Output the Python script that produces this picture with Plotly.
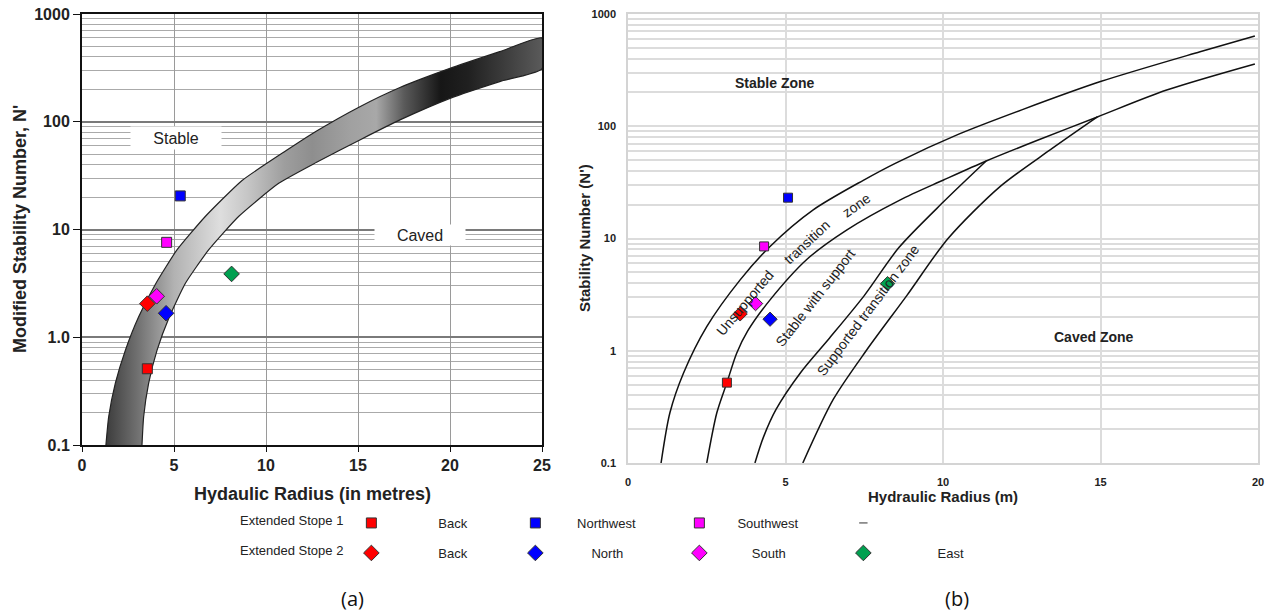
import math
import plotly.graph_objects as go

# ---------------- data ----------------
# (a) shaded transition band of the modified stability graph
band_upper_hr = [1.30, 1.45, 1.81, 2.36, 3.08, 4.02, 5.16, 6.70, 8.70, 11.1, 12.75, 15.1, 17.28, 20.0, 22.7, 25.0]
band_upper_n = [0.1, 0.183, 0.373, 0.76, 1.55, 3.17, 6.46, 13.2, 28.5, 54, 82, 138, 208, 313, 447, 600]
band_lower_hr = [3.26, 3.35, 3.62, 4.08, 4.75, 5.62, 6.88, 8.51, 10.69, 12.75, 15.1, 17.28, 20.0, 22.7, 25.0]
band_lower_n = [0.1, 0.183, 0.373, 0.76, 1.55, 3.17, 6.46, 13.2, 26.8, 42, 67.8, 104, 165, 236, 310]

# (b) extended stability graph boundary curves
curve1_hr = [1.05, 1.33, 1.76, 2.5, 3.56, 4.51, 5.88, 7.47, 8.5, 10.5, 12.5, 15.0, 18.16, 19.9]
curve1_n = [0.1, 0.28, 0.63, 1.64, 4.28, 8.5, 18, 33, 47, 85, 140, 250, 461, 637]
curve2_hr = [2.5, 2.82, 3.14, 3.45, 3.8, 4.51, 5.7, 6.94, 8.63, 10.0, 11.37, 13.0, 14.9, 17.1, 19.9]
curve2_n = [0.1, 0.28, 0.52, 0.95, 1.5, 2.84, 6.6, 11.9, 22, 33, 49, 75, 121, 210, 359]
curve3_hr = [4.03, 4.3, 4.7, 5.5, 6.4, 7.5, 8.6, 10.0, 11.37]
curve3_n = [0.1, 0.17, 0.3, 0.65, 1.3, 3.1, 8.3, 21, 49]
curve4_hr = [5.55, 6.52, 7.56, 8.85, 10.16, 11.81, 13.4, 14.9]
curve4_n = [0.1, 0.37, 1.0, 3.1, 10, 29, 61.5, 121]

# case-study points
series_names = ["Back", "Northwest", "Southwest", "Back", "North", "South", "East"]
series_stope = [1, 1, 1, 2, 2, 2, 2]
series_symbol = ["square", "square", "square", "diamond", "diamond", "diamond", "diamond"]
series_color = ["#ff0000", "#0000ff", "#ff00ff", "#ff0000", "#0000ff", "#ff00ff", "#00a050"]
a_hr = [3.55, 5.34, 4.60, 3.55, 4.57, 4.06, 8.13]
a_n = [0.51, 20.5, 7.6, 2.05, 1.67, 2.4, 3.87]
b_hr = [3.14, 5.08, 4.32, 3.56, 4.51, 4.05, 8.24]
b_n = [0.52, 23.1, 8.5, 2.13, 1.91, 2.63, 3.96]

legend_pad = [13, 6, 5, 13, 10, 9, 15]

left_yticks = [0.1, 1, 10, 100, 1000]
left_yticktext = ["0.1", "1.0", "10", "100", "1000"]
right_yticktext = ["0.1", "1", "10", "100", "1000"]
left_xticks = [0, 5, 10, 15, 20, 25]
right_xticks = [0, 5, 10, 15, 20]

W, H = 1270, 616
FONT = "Liberation Sans, Arial, sans-serif"
LEGFONT = "Liberation Sans Narrow, Arial Narrow, Liberation Sans, sans-serif"

minor_vals = [m * 10 ** e for e in range(-1, 3) for m in range(2, 10)]

fig = go.Figure()

# gradient band (a)
fig.add_trace(go.Scatter(
    x=band_upper_hr + band_lower_hr[::-1],
    y=band_upper_n + band_lower_n[::-1],
    mode="lines", fill="toself",
    fillgradient=dict(type="horizontal", start=1.3, stop=25,
                      colorscale=[[0.0, "#3c3c3c"], [0.072, "#707070"], [0.156, "#b2b2b2"],
                                  [0.262, "#dedede"], [0.325, "#c6c6c6"], [0.409, "#9e9e9e"],
                                  [0.473, "#8e8e8e"], [0.557, "#a0a0a0"], [0.62, "#a8a8a8"],
                                  [0.684, "#5a5a5a"], [0.768, "#161616"], [0.831, "#202020"],
                                  [1.0, "#5a5a5a"]]),
    line=dict(color="#222222", width=1.2, shape="spline", smoothing=0.5),
    hoverinfo="skip", showlegend=False, xaxis="x", yaxis="y"))

# curves (b)
for cx, cy in [(curve1_hr, curve1_n), (curve2_hr, curve2_n), (curve3_hr, curve3_n), (curve4_hr, curve4_n)]:
    fig.add_trace(go.Scatter(x=cx, y=cy, mode="lines",
                             line=dict(color="#111111", width=1.5, shape="spline", smoothing=0.8),
                             hoverinfo="skip", showlegend=False, xaxis="x2", yaxis="y2"))

# points
for i, name in enumerate(series_names):
    lg = "legend" if series_stope[i] == 1 else "legend2"
    size_a = 10 if series_symbol[i] == "square" else 12
    fig.add_trace(go.Scatter(
        x=[a_hr[i]], y=[a_n[i]], mode="markers",
        name="\u00a0" * legend_pad[i] + name, legend=lg, legendgroup=f"s{i}",
        marker=dict(symbol=series_symbol[i], color=series_color[i], size=size_a,
                    line=dict(color="#333333", width=1)),
        xaxis="x", yaxis="y"))
    fig.add_trace(go.Scatter(
        x=[b_hr[i]], y=[b_n[i]], mode="markers", showlegend=False, legendgroup=f"s{i}",
        marker=dict(symbol=series_symbol[i], color=series_color[i], size=size_a - 1,
                    line=dict(color="#333333", width=1)),
        xaxis="x2", yaxis="y2"))
    if i == 2:
        # placeholder entry ("-") of Extended Stope 1
        fig.add_trace(go.Scatter(
            x=[None], y=[None], mode="markers", name=" ", legend="legend",
            marker=dict(symbol="line-ew", size=6, line=dict(color="#333333", width=1)),
            xaxis="x", yaxis="y"))

legend_common = dict(orientation="h", x=238 / W, xanchor="left", yanchor="middle",
                     font=dict(family=LEGFONT, size=13, color="#222222"),
                     entrywidth=119, entrywidthmode="pixels", bgcolor="rgba(0,0,0,0)", itemclick=False)

fig.update_layout(
    template="none",
    width=W, height=H, autosize=False,
    margin=dict(l=0, r=0, t=0, b=0, pad=0, autoexpand=False),
    paper_bgcolor="white", plot_bgcolor="white",
    font=dict(family=FONT, color="#222222"),
    xaxis=dict(domain=[82 / W, 542 / W], range=[0, 25], tickvals=left_xticks, zeroline=False, automargin=False,
               showgrid=True, gridcolor="#9a9a9a", gridwidth=1,
               showline=True, linecolor="#111111", linewidth=2, mirror=True,
               ticks="outside", ticklen=5, tickcolor="#111111",
               tickfont=dict(family=FONT, size=16, weight="bold", color="#222222")),
    yaxis=dict(domain=[1 - 445 / H, 1 - 14 / H], type="log", range=[-1, 3], zeroline=False, automargin=False,
               tickvals=left_yticks, ticktext=left_yticktext,
               showgrid=True, gridcolor="#7a7a7a", gridwidth=1.5,
               minor=dict(tickvals=minor_vals, showgrid=True, gridcolor="#aaaaaa", gridwidth=1.2, ticks=""),
               showline=True, linecolor="#111111", linewidth=2, mirror=True,
               ticks="outside", ticklen=7, tickcolor="#111111",
               tickfont=dict(family=FONT, size=16, weight="bold", color="#222222")),
    xaxis2=dict(domain=[628 / W, 1258 / W], range=[0, 20], tickvals=right_xticks, anchor="y2", zeroline=False,
                automargin=False,
                showgrid=True, gridcolor="#dcdcdc", gridwidth=1.5,
                showline=True, linecolor="#d4d4d4", linewidth=1.5, mirror=True,
                ticks="", ticklabelstandoff=8,
                tickfont=dict(family=FONT, size=11, weight="bold", color="#222222")),
    yaxis2=dict(domain=[1 - 463 / H, 1 - 14 / H], type="log", range=[-1, 3], anchor="x2", zeroline=False,
                automargin=False,
                tickvals=left_yticks, ticktext=right_yticktext,
                showgrid=True, gridcolor="#dcdcdc", gridwidth=1.5,
                minor=dict(tickvals=minor_vals, showgrid=True, gridcolor="#dcdcdc", gridwidth=1.5, ticks=""),
                showline=True, linecolor="#d4d4d4", linewidth=1.5, mirror=True,
                ticks="", ticklabelstandoff=8,
                tickfont=dict(family=FONT, size=11, weight="bold", color="#222222")),
    legend=dict(y=1 - 523 / H,
                title=dict(text="Extended Stope 1", side="left", font=dict(family=LEGFONT, size=13)),
                **legend_common),
    legend2=dict(y=1 - 553 / H,
                 title=dict(text="Extended Stope 2", side="left", font=dict(family=LEGFONT, size=13)),
                 **legend_common),
)

ann = []
C = dict(showarrow=False, xanchor="center", yanchor="middle")
# zone labels (a)
ann.append(dict(x=5.09, y=math.log10(71), xref="x", yref="y", text="Stable",
                font=dict(family=FONT, size=16, color="#222222"), bgcolor="white", width=88, height=20, **C))
ann.append(dict(x=18.37, y=math.log10(8.9), xref="x", yref="y", text="Caved",
                font=dict(family=FONT, size=16, color="#222222"), bgcolor="white", width=88, height=18, **C))
# zone labels (b)
ann.append(dict(x=4.67, y=math.log10(243), xref="x2", yref="y2", text="Stable Zone",
                font=dict(family=FONT, size=14, weight="bold", color="#222222"), **C))
ann.append(dict(x=14.8, y=math.log10(1.32), xref="x2", yref="y2", text="Caved Zone",
                font=dict(family=FONT, size=14, weight="bold", color="#222222"), **C))
rot_labels = [("Unsupported", 3.71, 2.65, -50), ("transition", 5.67, 9.4, -43), ("zone", 7.26, 20, -35),
              ("Stable with support", 5.94, 2.94, -52), ("Supported transition zone", 7.62, 2.31, -53)]
for t, xx, yy, ang in rot_labels:
    ann.append(dict(x=xx, y=math.log10(yy), xref="x2", yref="y2", text=t, textangle=ang,
                    font=dict(family=FONT, size=14, color="#222222"), **C))
# axis titles
ann.append(dict(x=20 / W, y=1 - 229 / H, xref="paper", yref="paper", text="Modified Stability Number, N'",
                textangle=-90, font=dict(family=FONT, size=18, weight="bold", color="#222222"), **C))
ann.append(dict(x=312 / W, y=1 - 494 / H, xref="paper", yref="paper", text="Hydaulic Radius (in metres)",
                font=dict(family=FONT, size=18, weight="bold", color="#222222"), **C))
ann.append(dict(x=584 / W, y=1 - 238 / H, xref="paper", yref="paper", text="Stability Number (N')",
                textangle=-90, font=dict(family=FONT, size=15, weight="bold", color="#222222"), **C))
ann.append(dict(x=943 / W, y=1 - 497 / H, xref="paper", yref="paper", text="Hydraulic Radius (m)",
                font=dict(family=FONT, size=15, weight="bold", color="#222222"), **C))
# panel labels
ann.append(dict(x=352 / W, y=1 - 598 / H, xref="paper", yref="paper", text="(a)",
                font=dict(family="Open Sans, sans-serif", size=20, color="#111111"), **C))
ann.append(dict(x=957 / W, y=1 - 598 / H, xref="paper", yref="paper", text="(b)",
                font=dict(family="Open Sans, sans-serif", size=20, color="#111111"), **C))
fig.update_layout(annotations=ann)

fig.write_html("out.html",
               post_script="document.body.style.margin='0';document.body.style.overflow='hidden';")
